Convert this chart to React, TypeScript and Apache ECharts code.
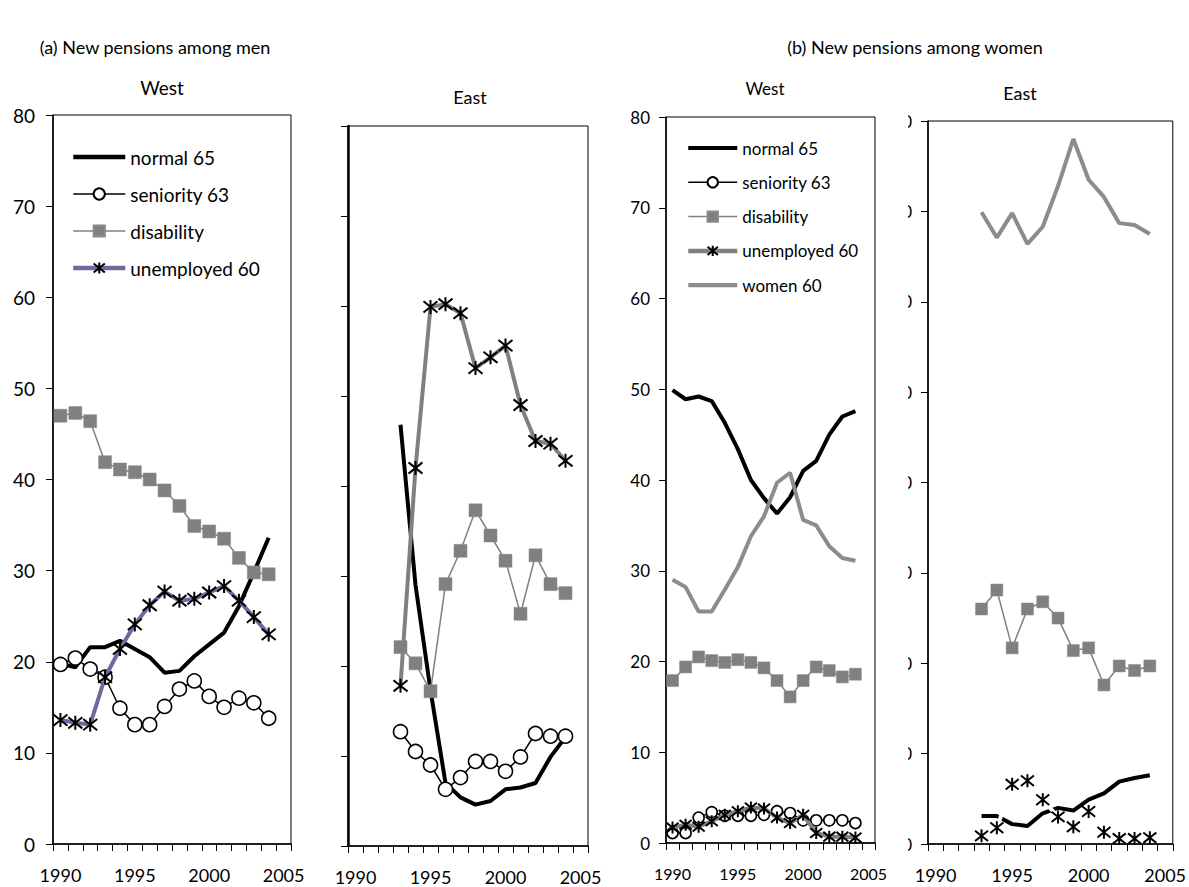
import React, { useEffect, useRef } from 'react';
import * as echarts from 'echarts';

const years = ['1990','1991','1992','1993','1994','1995','1996','1997','1998','1999','2000','2001','2002','2003','2004','2005'];
const n = null;

// (a) men, West
const menWestNormal65 = [19.8, 19.4, 21.6, 21.6, 22.3, 21.4, 20.5, 18.8, 19.0, 20.6, 21.9, 23.2, 26.1, 29.8, 33.6];
const menWestSeniority63 = [19.7, 20.4, 19.2, 18.3, 14.9, 13.1, 13.1, 15.1, 17.0, 17.9, 16.2, 15.0, 16.0, 15.5, 13.8];
const menWestDisability = [47.0, 47.3, 46.4, 41.9, 41.1, 40.8, 40.0, 38.8, 37.1, 34.9, 34.3, 33.5, 31.4, 29.8, 29.6];
const menWestUnemployed60 = [13.6, 13.3, 13.1, 18.3, 21.4, 24.1, 26.2, 27.7, 26.7, 26.9, 27.6, 28.3, 26.7, 24.9, 23.0];

// (a) men, East
const menEastNormal65 = [n, n, n, 46.8, 29.0, 17.3, 7.0, 5.4, 4.6, 5.0, 6.3, 6.5, 7.0, 9.9, 12.1];
const menEastSeniority63 = [n, n, n, 12.7, 10.5, 9.0, 6.3, 7.6, 9.4, 9.4, 8.3, 9.9, 12.5, 12.2, 12.2];
const menEastDisability = [n, n, n, 22.1, 20.3, 17.2, 29.1, 32.8, 37.3, 34.5, 31.7, 25.8, 32.3, 29.1, 28.1];
const menEastUnemployed60 = [n, n, n, 17.8, 42.0, 59.9, 60.2, 59.2, 53.1, 54.3, 55.6, 49.0, 45.0, 44.7, 42.8];

// (b) women, West
const womenWestNormal65 = [49.9, 48.9, 49.2, 48.7, 46.3, 43.4, 40.0, 38.0, 36.3, 38.1, 41.0, 42.1, 45.0, 47.0, 47.6];
const womenWestSeniority63 = [1.1, 1.1, 2.8, 3.4, 3.0, 3.0, 3.0, 3.1, 3.5, 3.3, 2.5, 2.5, 2.5, 2.5, 2.2];
const womenWestDisability = [17.9, 19.4, 20.5, 20.1, 19.9, 20.2, 19.9, 19.3, 17.9, 16.1, 17.9, 19.4, 19.0, 18.3, 18.6];
const womenWestUnemployed60 = [1.7, 2.0, 1.8, 2.4, 3.1, 3.5, 3.9, 3.8, 2.8, 2.2, 3.1, 1.1, 0.7, 0.7, 0.6];
const womenWestWomen60 = [29.0, 28.2, 25.5, 25.5, 27.9, 30.4, 33.8, 36.0, 39.7, 40.8, 35.6, 35.0, 32.7, 31.4, 31.1];

// (b) women, East
const womenEastNormal65 = [n, n, n, 3.1, 3.1, 2.2, 2.0, 3.4, 4.0, 3.7, 4.9, 5.6, 6.9, 7.3, 7.6];
const womenEastDisability = [n, n, n, 26.0, 28.1, 21.7, 26.0, 26.8, 25.0, 21.4, 21.7, 17.6, 19.7, 19.2, 19.7];
const womenEastUnemployed60 = [n, n, n, 0.9, 1.8, 6.6, 7.0, 4.9, 3.0, 1.9, 3.6, 1.3, 0.6, 0.6, 0.7];
const womenEastWomen60 = [n, n, n, 69.9, 67.1, 69.8, 66.4, 68.3, 72.8, 78.0, 73.5, 71.6, 68.7, 68.5, 67.5];

const legendLabels: Record<string, string> = {
  m_normal: 'normal 65', m_sen: 'seniority 63', m_dis: 'disability', m_unemp: 'unemployed 60',
  w_normal: 'normal 65', w_sen: 'seniority 63', w_dis: 'disability', w_unemp: 'unemployed 60', w_w60: 'women 60',
};

const FONT = 'Lato, "Open Sans", sans-serif';
const ASTER = 'path://M5 0L5 10M0.4 1L9.6 9M9.6 1L0.4 9';
const BAR = 'path://M0 0H52V4.5H0Z';
const GREY = '#808080';
const PURPLE = '#6b6b9e';
const W60 = '#8c8c8c';

function base(name: string, data: any[], g: number) {
  return { type: 'line', name, data, xAxisIndex: g, yAxisIndex: g, showAllSymbol: true, connectNulls: false };
}
function normal(name: string, data: any[], g: number) {
  return { ...base(name, data, g), symbol: 'none', z: 2,
    lineStyle: { color: '#000', width: 4 }, itemStyle: { color: '#000' } };
}
function seniority(name: string, data: any[], g: number, size: number) {
  return { ...base(name, data, g), symbol: 'circle', symbolSize: size, z: 3,
    lineStyle: { color: '#000', width: 1.5 }, itemStyle: { color: '#fff', borderColor: '#000', borderWidth: 1.6 } };
}
function disability(name: string, data: any[], g: number, size: number) {
  return { ...base(name, data, g), symbol: 'rect', symbolSize: size, z: 5,
    lineStyle: { color: GREY, width: 1.5 }, itemStyle: { color: GREY, borderColor: '#8a8a8a', borderWidth: 0.5 } };
}
function unemployed(name: string, data: any[], g: number, color: string, size: number, width = 4) {
  return { ...base(name, data, g), symbol: ASTER, symbolSize: size, z: 4,
    lineStyle: { color, width }, itemStyle: { color: '#000', borderColor: '#000', borderWidth: 2 } };
}
function women60(name: string, data: any[], g: number) {
  return { ...base(name, data, g), symbol: 'none', z: 2,
    lineStyle: { color: W60, width: 4 }, itemStyle: { color: W60 } };
}

const grids = [
  { left: 53, top: 115, width: 238, height: 729 },
  { left: 348, top: 126, width: 240, height: 720 },
  { left: 666, top: 117, width: 209, height: 726 },
  { left: 928, top: 121, width: 245, height: 723 },
];
const xFont = [18, 18, 16, 18];
const yFont = [19, 18, 17, 17];
const yMargin = [18, 16, 16, 16];

function buildOption() {
  return {
    animation: false,
    backgroundColor: '#fff',
    grid: grids.map((g) => ({ ...g, show: true, borderColor: '#000', borderWidth: 1, backgroundColor: 'transparent' })),
    xAxis: grids.map((_, i) => ({
      type: 'category', gridIndex: i, data: years, boundaryGap: true,
      axisLine: { show: true, lineStyle: { color: '#000', width: 1.5 } },
      axisTick: { show: true, interval: 0, length: 7, lineStyle: { color: '#000', width: 1 } },
      axisLabel: { interval: 4, margin: 22, fontSize: xFont[i], fontFamily: FONT, color: '#000' },
      splitLine: { show: false },
    })),
    yAxis: grids.map((_, i) => ({
      type: 'value', gridIndex: i, min: 0, max: 80, interval: 10,
      axisLine: { show: true, lineStyle: { color: '#000', width: i === 1 ? 2.5 : 1.5 } },
      axisTick: { show: true, length: 7, lineStyle: { color: '#000', width: 1 } },
      axisLabel: { show: i !== 1, margin: yMargin[i], fontSize: yFont[i], fontFamily: FONT, color: '#000' },
      splitLine: { show: false },
    })),
    legend: [
      {
        orient: 'vertical', left: 66, top: 142, itemWidth: 52, itemHeight: 14, itemGap: 17,
        data: [
          { name: 'm_normal', icon: BAR },
          { name: 'm_sen', lineStyle: { width: 1.5 } },
          { name: 'm_dis', lineStyle: { width: 1.5 } },
          { name: 'm_unemp', lineStyle: { width: 4.5 } },
        ],
        formatter: (name: string) => legendLabels[name],
        textStyle: { fontSize: 19, fontFamily: FONT, color: '#000', lineHeight: 20 },
        selectedMode: false,
      },
      {
        orient: 'vertical', left: 681, top: 134, itemWidth: 49, itemHeight: 13, itemGap: 16.3,
        data: [
          { name: 'w_normal', icon: BAR },
          { name: 'w_sen', lineStyle: { width: 1.5 } },
          { name: 'w_dis', lineStyle: { width: 1.5 } },
          { name: 'w_unemp', lineStyle: { width: 4.5 } },
          { name: 'w_w60', icon: BAR },
        ],
        formatter: (name: string) => legendLabels[name],
        textStyle: { fontSize: 17, fontFamily: FONT, color: '#000', lineHeight: 18 },
        selectedMode: false,
      },
    ],
    series: [
      normal('m_normal', menWestNormal65, 0),
      seniority('m_sen', menWestSeniority63, 0, 14),
      unemployed('m_unemp', menWestUnemployed60, 0, PURPLE, 14),
      disability('m_dis', menWestDisability, 0, 13),

      normal('m_normal_e', menEastNormal65, 1),
      seniority('m_sen_e', menEastSeniority63, 1, 14),
      unemployed('m_unemp_e', menEastUnemployed60, 1, GREY, 14),
      disability('m_dis_e', menEastDisability, 1, 13),

      normal('w_normal', womenWestNormal65, 2),
      women60('w_w60', womenWestWomen60, 2),
      disability('w_dis', womenWestDisability, 2, 12),
      unemployed('w_unemp', womenWestUnemployed60, 2, GREY, 12),
      seniority('w_sen', womenWestSeniority63, 2, 11),

      normal('w_normal_e', womenEastNormal65, 3),
      women60('w_w60_e', womenEastWomen60, 3),
      disability('w_dis_e', womenEastDisability, 3, 12),
      unemployed('w_unemp_e', womenEastUnemployed60, 3, '#ffffff', 13, 4),
    ],
    graphic: [
      { type: 'text', x: 155, y: 47, style: { text: '(a) New pensions among men', fontSize: 18, fontFamily: FONT, fill: '#000', align: 'center', verticalAlign: 'middle' } },
      { type: 'text', x: 915, y: 47, style: { text: '(b) New pensions among women', fontSize: 18, fontFamily: FONT, fill: '#000', align: 'center', verticalAlign: 'middle' } },
      { type: 'text', x: 162, y: 87, style: { text: 'West', fontSize: 19, fontFamily: FONT, fill: '#000', align: 'center', verticalAlign: 'middle' } },
      { type: 'text', x: 470, y: 97, style: { text: 'East', fontSize: 18, fontFamily: FONT, fill: '#000', align: 'center', verticalAlign: 'middle' } },
      { type: 'text', x: 765, y: 88, style: { text: 'West', fontSize: 17, fontFamily: FONT, fill: '#000', align: 'center', verticalAlign: 'middle' } },
      { type: 'text', x: 1020, y: 93, style: { text: 'East', fontSize: 18, fontFamily: FONT, fill: '#000', align: 'center', verticalAlign: 'middle' } },
      { type: 'rect', x: 877, y: 105, z: 100, shape: { width: 31, height: 748 }, style: { fill: '#fff' } },
    ],
  };
}

export default function App() {
  const ref = useRef<HTMLDivElement>(null);
  useEffect(() => {
    if (!ref.current) return;
    const chart = echarts.init(ref.current, undefined, { renderer: 'svg' });
    chart.setOption(buildOption() as any);
    return () => chart.dispose();
  }, []);
  return (
    <div
      ref={ref}
      style={{ position: 'absolute', left: 0, top: 0, width: 1189, height: 887, background: '#fff' }}
    />
  );
}
